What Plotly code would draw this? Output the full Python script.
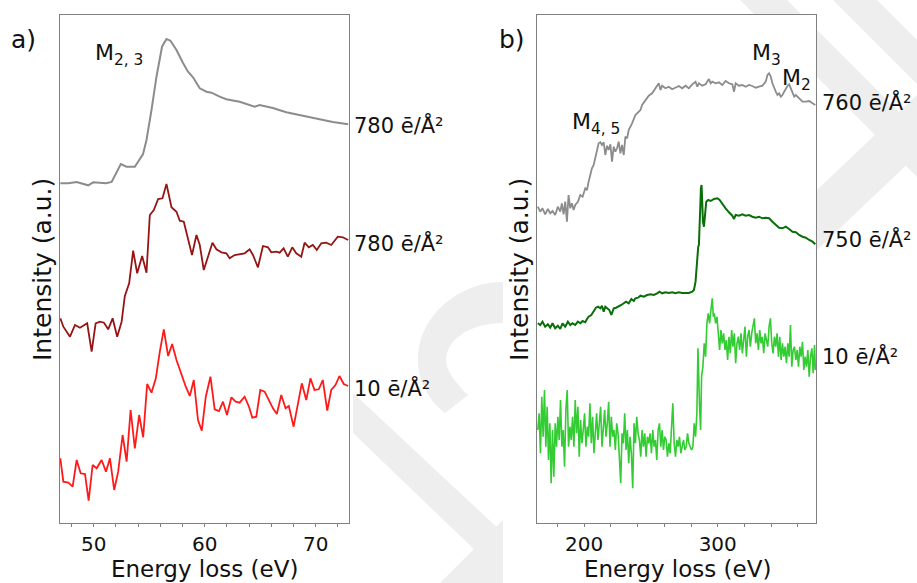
import plotly.graph_objects as go

# ---------------- Panel a data (Energy loss eV, intensity a.u., curves stacked) -------------
a_gray_E = [47.0, 47.72, 48.47, 49.51, 49.96, 51.11, 51.62, 52.45, 52.96, 53.71, 54.45, 54.76,
            55.21, 55.66, 56.16, 56.56, 56.92, 57.46, 58.05, 58.5, 58.95, 59.56, 60.16, 60.61,
            61.35, 61.95, 63.15, 64.5, 64.95, 66.14, 67.35, 68.54, 70.04, 71.54, 72.92]
a_gray_I = [339.7, 339.7, 341, 337.7, 340.7, 339.7, 341, 359, 356.3, 356.3, 369, 383,
            413, 446.3, 476.3, 484, 482.3, 473, 460, 451.3, 445.7, 434.7, 431.3, 430.3,
            426.3, 423.7, 421.3, 416.3, 418, 415, 410.7, 408, 404.7, 401, 398.7]

a_dred_E = [47.0, 47.27, 47.87, 48.32, 48.77, 49.42, 49.82, 50.18, 50.57, 50.93,
            51.31, 51.71, 52.12, 52.52, 52.81, 53.2, 53.56, 53.92, 54.37, 54.76,
            55.06, 55.42, 55.81, 56.2, 56.56, 57.01, 57.46, 57.76, 58.12, 58.5,
            58.86, 59.26, 59.56, 59.92, 60.3, 60.7, 61.06, 61.51, 61.96, 62.25,
            62.7, 63.15, 63.6, 64.05, 64.35, 64.8, 65.25, 65.7, 66.0, 66.45,
            66.75, 67.11, 67.49, 67.89, 68.25, 68.7, 69.0, 69.38, 69.74, 70.1,
            70.5, 70.95, 71.4, 71.99, 72.44, 72.92]
a_dred_I = [204.7, 196.3, 186.3, 198, 195.3, 199.7, 171.3, 199.7, 201.3, 200.3,
            193.7, 204.7, 186.3, 201.3, 227, 239.7, 272.3, 249.7, 267, 250.3,
            308, 313, 324, 324.7, 339, 315.7, 311.3, 302.3, 301.3, 283,
            268, 288, 278, 253, 267, 280.3, 273.7, 270.7, 269.7, 264.7,
            268, 269, 269.7, 273.7, 268, 255.7, 277, 275.7, 270.7, 271.3,
            270.3, 274.7, 266.3, 275.7, 269.7, 266.3, 280.3, 275.7, 278, 273,
            279.7, 280.3, 278, 286.3, 285.7, 283]

a_red_E = [47.0, 47.27, 47.72, 48.11, 48.47, 48.83, 49.22, 49.55, 49.91, 50.27,
           50.72, 51.11, 51.47, 51.85, 52.21, 52.61, 52.97, 53.33, 53.71, 54.1,
           54.46, 54.82, 55.21, 55.6, 55.96, 56.32, 56.71, 57.07, 57.46, 57.91,
           58.3, 58.66, 59.02, 59.4, 59.74, 60.1, 60.52, 60.9, 61.29, 61.65,
           62.01, 62.41, 62.79, 63.15, 63.6, 63.99, 64.29, 64.65, 65.01, 65.4,
           65.79, 66.15, 66.5, 66.9, 67.29, 67.58, 68.01, 68.39, 68.75, 69.15,
           69.53, 69.89, 70.28, 70.64, 71.04, 71.4, 71.78, 72.14, 72.53, 72.92]
a_red_I = [64.7, 41.3, 40.3, 36.3, 63, 49.7, 49, 22.3, 58, 54.7,
           63, 51.3, 64.7, 33, 51.3, 88, 61.3, 113, 74.7, 108,
           85.7, 139, 130.3, 144.7, 171.3, 193.7, 167, 179, 163, 148,
           136.3, 127, 143, 103, 92.3, 126.3, 146.3, 113.7, 112, 121.3,
           108, 125.7, 121.3, 120.3, 126.3, 116.3, 105.3, 106.3, 133, 131.3,
           123, 114.7, 109, 128, 114.7, 117, 96.3, 119.7, 139.7, 123,
           144.7, 133, 133.7, 143, 112.3, 133, 138, 147, 139, 137]

# ---------------- Panel b data -------------
b_gray_E = [165.4, 167.2, 168.9, 170.9, 172.9, 174.7, 176.4, 178.4, 180.4, 182.2,
            183.4, 184.7, 185.9, 187.2, 188.4, 189.7, 190.9, 192.2, 193.4, 195.4,
            197.2, 198.9, 200.9, 202.2, 203.4, 204.7, 205.9, 207.2, 208.4, 209.7,
            210.9, 212.2, 213.4, 214.7, 215.9, 217.2, 218.4, 219.7, 220.9, 222.2,
            223.4, 224.7, 225.9, 227.2, 228.4, 229.7, 230.9, 232.2, 233.4, 235.9,
            238.4, 239.7, 240.9, 242.2, 243.4, 245.9, 248.4, 250.9, 253.4, 255.9,
            257.2, 258.4, 260.9, 263.4, 265.9, 268.4, 270.9, 273.4, 275.9, 278.4,
            280.9, 283.4, 284.7, 285.9, 288.4, 290.9, 293.4, 294.7, 295.9, 298.4,
            300.9, 303.4, 305.9, 308.4, 310.9, 312.2, 313.4, 315.9, 318.4, 320.9,
            323.4, 325.9, 328.4, 330.9, 333.4, 335.9, 337.2, 338.4, 339.7, 340.9,
            342.2, 343.4, 344.7, 345.9, 347.2, 348.4, 349.7, 350.9, 352.2, 353.4,
            354.7, 355.9, 357.2, 358.4, 360.9, 363.4, 365.9, 368.4, 370.9, 373.0]
b_gray_I = [316.3, 311.3, 314.7, 308.7, 314, 309.7, 312, 308, 316.3, 311.3,
            319.7, 308.7, 321.3, 301.3, 328, 314.7, 319.7, 313, 318, 321.3,
            328, 326.3, 334.7, 333, 341.3, 348, 354.7, 358, 366.3, 371.3,
            379.7, 380.7, 378, 380.7, 368, 377.3, 373, 378.7, 361.3, 376.3,
            371.3, 374.7, 381.3, 369.7, 378, 368, 386.3, 384.7, 393, 399.7,
            408, 409.7, 411.3, 413, 418, 423, 427.3, 429.7, 434.7, 439.7,
            433, 437.3, 434.7, 436.3, 433.7, 435.3, 437, 434.7, 437.3, 434.7,
            438.7, 441.3, 436.3, 439.7, 437.3, 438.7, 444, 439.7, 441.3, 439.7,
            440.7, 438, 442, 439.7, 438.7, 431.3, 439.7, 437.3, 438, 436.3,
            438, 437, 435.3, 436.3, 437.3, 441.3, 448, 449.7, 446.3, 439.7,
            434.7, 431.3, 428, 429.7, 426.3, 428, 431.3, 434.7, 437.3, 438.7,
            434.7, 429.7, 426.3, 428, 424.7, 421.3, 421.3, 422, 419.7, 418]

b_dgreen_E = [165.4, 167.2, 168.9, 170.9, 172.9, 174.7, 176.4, 178.4, 180.4, 182.2,
              183.9, 185.9, 187.9, 189.7, 191.4, 193.4, 195.4, 197.2, 198.9, 200.9,
              202.2, 203.4, 205.4, 207.2, 208.9, 210.4, 212.2, 213.4, 214.7, 215.9,
              217.2, 218.9, 220.4, 222.2, 223.9, 225.9, 227.9, 229.7, 231.4, 233.4,
              235.4, 237.2, 238.4, 240.4, 242.2, 244.7, 247.2, 249.7, 252.2, 254.7,
              256.4, 258.4, 260.9, 263.4, 265.9, 268.4, 270.9, 273.4, 275.9, 278.4,
              280.9, 282.2, 283.4, 284.2, 284.7, 285.4, 285.9, 286.4, 286.9, 287.4,
              287.9, 288.4, 288.9, 289.7, 290.4, 291.4, 292.9, 294.7, 297.2, 299.7,
              301.4, 303.4, 305.9, 308.4, 310.9, 312.2, 313.4, 315.9, 318.4, 320.9,
              323.4, 325.9, 328.4, 330.9, 333.4, 335.9, 338.4, 340.9, 343.4, 345.9,
              348.4, 350.9, 353.4, 355.9, 358.4, 360.9, 363.4, 365.9, 368.4, 370.9,
              373.0]
b_dgreen_I = [199.7, 198, 201.3, 196.3, 198.7, 195.3, 199.7, 194.7, 197.3, 194,
              199.7, 196.3, 201.3, 198, 199.7, 198, 201.3, 199.7, 202, 200.7,
              204, 206.3, 208, 211.3, 215.3, 216.3, 214.7, 217.3, 211.3, 216.3,
              214.7, 213, 208, 214.7, 215.3, 216.3, 218, 219.7, 221.3, 219.7,
              224, 222, 224.7, 225.3, 227.3, 226.3, 228, 228.7, 228, 229.7,
              231.3, 229.7, 230.7, 230, 230.7, 229.7, 230.7, 230, 230.3, 230,
              231.3, 233, 241.3, 258, 271.3, 276.3, 278, 291.3, 314.7, 334.7,
              338, 321.3, 301.3, 296.3, 308, 321.3, 323, 322, 324, 324.7,
              323, 318.7, 314.7, 310.7, 307.3, 304, 308, 307.3, 308.7, 307.3,
              308, 306.3, 305.3, 306.3, 304.7, 305.3, 304.7, 301.3, 298, 295.3,
              294.7, 296.3, 294, 291.3, 290.7, 288, 286.3, 285.3, 283, 281.3,
              278.7]

b_lgreen_E = [165.4, 166.4, 167.4, 168.4, 169.4, 170.4, 171.4, 172.4, 173.4, 174.4,
              175.4, 176.4, 177.4, 178.4, 179.4, 180.4, 181.4, 182.4, 183.4, 184.4,
              185.4, 186.4, 187.4, 188.4, 189.4, 190.4, 191.4, 192.4, 193.4, 194.4,
              195.4, 196.4, 197.4, 198.4, 199.4, 200.4, 201.4, 202.4, 203.4, 204.4,
              205.4, 206.4, 207.4, 208.4, 209.4, 210.4, 211.4, 212.4, 213.4, 214.4,
              215.4, 216.4, 217.4, 218.4, 219.4, 220.4, 221.4, 222.4, 223.4, 224.4,
              225.4, 226.4, 227.4, 228.4, 229.4, 230.4, 231.4, 232.4, 233.4, 234.4,
              235.4, 236.4, 237.4, 238.4, 239.4, 240.4, 241.4, 242.4, 243.4, 244.4,
              245.4, 246.4, 247.4, 248.4, 249.4, 250.4, 251.4, 252.4, 253.4, 254.4,
              255.4, 256.4, 257.4, 258.4, 259.4, 260.4, 261.4, 262.4, 263.4, 264.4,
              265.4, 266.4, 267.4, 268.4, 269.4, 270.4, 271.4, 272.4, 273.4, 274.4,
              275.4, 276.4, 277.4, 278.4, 279.4, 280.4, 281.4, 282.4, 283.4, 284.4,
              285.2, 285.9, 286.4, 287.2, 287.9, 288.9, 289.9, 290.9, 291.9, 292.9,
              293.9, 294.9, 295.9, 296.7, 297.4,
              298.4, 299.4, 300.4, 301.4, 302.4, 303.4, 304.4, 305.4, 306.4, 307.4,
              308.4, 309.4, 310.4, 311.4, 312.4, 313.4, 314.4, 315.4, 316.4, 317.4,
              318.4, 319.4, 320.4, 321.4, 322.4, 323.4, 324.4, 325.4, 326.4, 327.4,
              328.4, 329.4, 330.4, 331.4, 332.4, 333.4, 334.4, 335.4, 336.4, 337.4,
              338.4, 339.4, 340.4, 341.4, 342.4, 343.4, 344.4, 345.4, 346.4, 347.4,
              348.4, 349.4, 350.4, 351.4, 352.4, 353.4, 354.4, 355.4, 356.4, 357.4,
              358.4, 359.4, 360.4, 361.4, 362.4, 363.4, 364.4, 365.4, 366.4, 367.4,
              368.4, 369.4, 370.4, 371.4, 372.4, 373.0]
b_lgreen_I = [93, 109.7, 69.7, 126.3, 86.3, 133, 76.3, 116.3, 63, 99.7,
              39.7, 93, 46.3, 99.7, 76.3, 106.3, 83, 123, 76.3, 93,
              56.3, 113, 133, 76.3, 96.3, 83, 106.3, 76.3, 123, 89.7,
              116.3, 66.3, 103, 79.7, 93, 109.7, 76.3, 96.3, 86.3, 119.7,
              79.7, 106.3, 69.7, 93, 109.7, 83, 99.7, 116.3, 76.3, 96.3,
              113, 86.3, 99.7, 121.3, 76.3, 106.3, 86.3, 93, 73, 99.7,
              89.7, 66.3, 39.7, 89.7, 79.7, 109.7, 73, 93, 59.7, 86.3,
              69.7, 34.7, 99.7, 79.7, 106.3, 89.7, 83, 66.3, 93, 76.3,
              89.7, 66.3, 86.3, 79.7, 89.7, 69.7, 93, 76.3, 83, 63,
              93, 99.7, 76.3, 93, 73, 86.3, 83, 66.3, 79.7, 69.7,
              96.3, 119.7, 79.7, 66.3, 83, 76.3, 86.3, 69.7, 76.3, 83,
              73, 76.3, 89.7, 79.7, 76.3, 73, 76.3, 99.7, 86.3, 109.7,
              174.7, 133, 116.3, 93, 146.3, 156.3, 179.7, 166.3, 199.7, 209.7,
              199.7, 213, 224.7, 206.3, 209.7,
              199.7, 206.3, 189.7, 173, 193, 179.7, 189.7, 173, 183, 163,
              186.3, 169.7, 193, 176.3, 189.7, 159.7, 179.7, 186.3, 173, 189.7,
              169.7, 183, 196.3, 166.3, 186.3, 193, 176.3, 189.7, 196.3, 204.7,
              179.7, 189.7, 173, 193, 179.7, 186.3, 169.7, 189.7, 183, 176.3,
              196.3, 204.7, 179.7, 169.7, 186.3, 176.3, 189.7, 166.3, 186.3, 163,
              179.7, 166.3, 176.3, 159.7, 179.7, 166.3, 198, 156.3, 173, 176.3,
              163, 173, 156.3, 176.3, 166.3, 181.3, 153, 166.3, 156.3, 173,
              146.3, 166.3, 174.7, 149.7, 178, 153]

dose_labels_a = ["780 ē/Å²", "780 ē/Å²", "10 ē/Å²"]
dose_labels_b = ["760 ē/Å²", "750 ē/Å²", "10 ē/Å²"]
x_title = "Energy loss (eV)"
y_title = "Intensity (a.u.)"

W, H = 917, 583
FONT = "DejaVu Sans"


def px(x):
    return x / W


def py(y):
    return 1 - y / H


fig = go.Figure()

fig.add_trace(go.Scatter(x=a_gray_E, y=a_gray_I, mode="lines", line=dict(color="#8c8c8c", width=2), xaxis="x", yaxis="y"))
fig.add_trace(go.Scatter(x=a_dred_E, y=a_dred_I, mode="lines", line=dict(color="#961414", width=1.8), xaxis="x", yaxis="y"))
fig.add_trace(go.Scatter(x=a_red_E, y=a_red_I, mode="lines", line=dict(color="#ff1a1a", width=1.8), xaxis="x", yaxis="y"))
fig.add_trace(go.Scatter(x=b_gray_E, y=b_gray_I, mode="lines", line=dict(color="#8c8c8c", width=1.8), xaxis="x2", yaxis="y2"))
fig.add_trace(go.Scatter(x=b_dgreen_E, y=b_dgreen_I, mode="lines", line=dict(color="#0a6e0a", width=2), xaxis="x2", yaxis="y2"))
fig.add_trace(go.Scatter(x=b_lgreen_E, y=b_lgreen_I, mode="lines", line=dict(color="#33cc33", width=1.6), xaxis="x2", yaxis="y2"))

axis_common = dict(showline=True, mirror=True, linecolor="#808080", linewidth=1.2,
                   showgrid=False, zeroline=False)

fig.update_layout(
    width=W, height=H, autosize=False, showlegend=False,
    margin=dict(l=0, r=0, t=0, b=0),
    paper_bgcolor="white", plot_bgcolor="white",
    font=dict(family=FONT, color="#111111"),
    xaxis=dict(domain=[px(60), px(349)], range=[46.97, 73.0], anchor="y",
               tickvals=[50, 60, 70], ticks="outside", ticklen=3, tickcolor="#808080",
               tickfont=dict(size=20, family=FONT, color="#111111"),
               minor=dict(dtick=2, tick0=48, ticks="outside", ticklen=3, tickcolor="#808080"),
               **axis_common),
    yaxis=dict(domain=[py(523), py(15)], range=[0, 508], anchor="x",
               showticklabels=False, ticks="", **axis_common),
    xaxis2=dict(domain=[px(537), px(816)], range=[164.8, 373.5], anchor="y2",
                tickvals=[200, 300], ticks="outside", ticklen=3, tickcolor="#808080",
                tickfont=dict(size=20, family=FONT, color="#111111"),
                minor=dict(dtick=20, tick0=180, ticks="outside", ticklen=3, tickcolor="#808080"),
                **axis_common),
    yaxis2=dict(domain=[py(523), py(15)], range=[0, 508], anchor="x2",
                showticklabels=False, ticks="", **axis_common),
)

# ---- faint background watermark (decorative), then white panel cards ----
WM = "#eeeeee"


def poly(pts):
    return "M " + " L ".join(f"{px(x):.4f},{py(y):.4f}" for x, y in pts) + " Z"


shapes = []
bands = [
    [(740, 0), (787, 0), (917, 130), (917, 177)],
    [(833, 0), (877, 0), (917, 40), (917, 84)],
    [(817, 190), (817, 250), (917, 155), (917, 95)],
    [(353, 393), (353, 433), (503, 577), (503, 533)],
    [(440, 583), (503, 520), (503, 583)],
]
for b in bands:
    shapes.append(dict(type="path", xref="paper", yref="paper", path=poly(b),
                       fillcolor=WM, line=dict(width=0), layer="below"))
arc = (f"M {px(503):.4f},{py(282):.4f} C {px(460):.4f},{py(282):.4f} {px(418):.4f},{py(315):.4f} {px(418):.4f},{py(360):.4f} "
       f"C {px(418):.4f},{py(380):.4f} {px(428):.4f},{py(400):.4f} {px(445):.4f},{py(413):.4f} "
       f"L {px(468):.4f},{py(395):.4f} "
       f"C {px(455):.4f},{py(383):.4f} {px(446):.4f},{py(370):.4f} {px(446):.4f},{py(360):.4f} "
       f"C {px(446):.4f},{py(340):.4f} {px(470):.4f},{py(323):.4f} {px(503):.4f},{py(323):.4f} Z")
shapes.append(dict(type="path", xref="paper", yref="paper", path=arc,
                   fillcolor=WM, line=dict(width=0), layer="below"))
shapes.append(dict(type="rect", xref="paper", yref="paper", x0=0, x1=px(353), y0=0, y1=1,
                   fillcolor="white", line=dict(width=0), layer="below"))
shapes.append(dict(type="rect", xref="paper", yref="paper", x0=px(505), x1=px(817), y0=0, y1=py(15),
                   fillcolor="white", line=dict(width=0), layer="below"))
fig.update_layout(shapes=shapes)

ann = []


def text(x, y, s, size, xanchor="left", yanchor="middle", angle=0):
    ann.append(dict(x=px(x), y=py(y), xref="paper", yref="paper", text=s, showarrow=False,
                    xanchor=xanchor, yanchor=yanchor, textangle=angle,
                    font=dict(size=size, family=FONT, color="#111111")))


text(204, 569, x_title, 23, xanchor="center")
text(677, 569, x_title, 23, xanchor="center")
text(42, 270, y_title, 25, xanchor="center", angle=-90)
text(519, 270, y_title, 25, xanchor="center", angle=-90)
text(9, 40, "a)", 25)
text(497, 40, "b)", 25)
for s, yy in zip(dose_labels_a, [125, 243, 388]):
    text(352, yy, s, 21)
for s, yy in zip(dose_labels_b, [102, 239, 356]):
    text(820, yy, s, 21)
text(93, 55, "M<sub>2, 3</sub>", 22)
text(570, 124, "M<sub>4, 5</sub>", 22)
text(750, 55, "M<sub>3</sub>", 22)
text(780, 80, "M<sub>2</sub>", 22)

fig.update_layout(annotations=ann)
fig.write_html("out.html", config={"displayModeBar": False},
               post_script="document.body.style.margin='0';document.body.style.overflow='hidden';")
